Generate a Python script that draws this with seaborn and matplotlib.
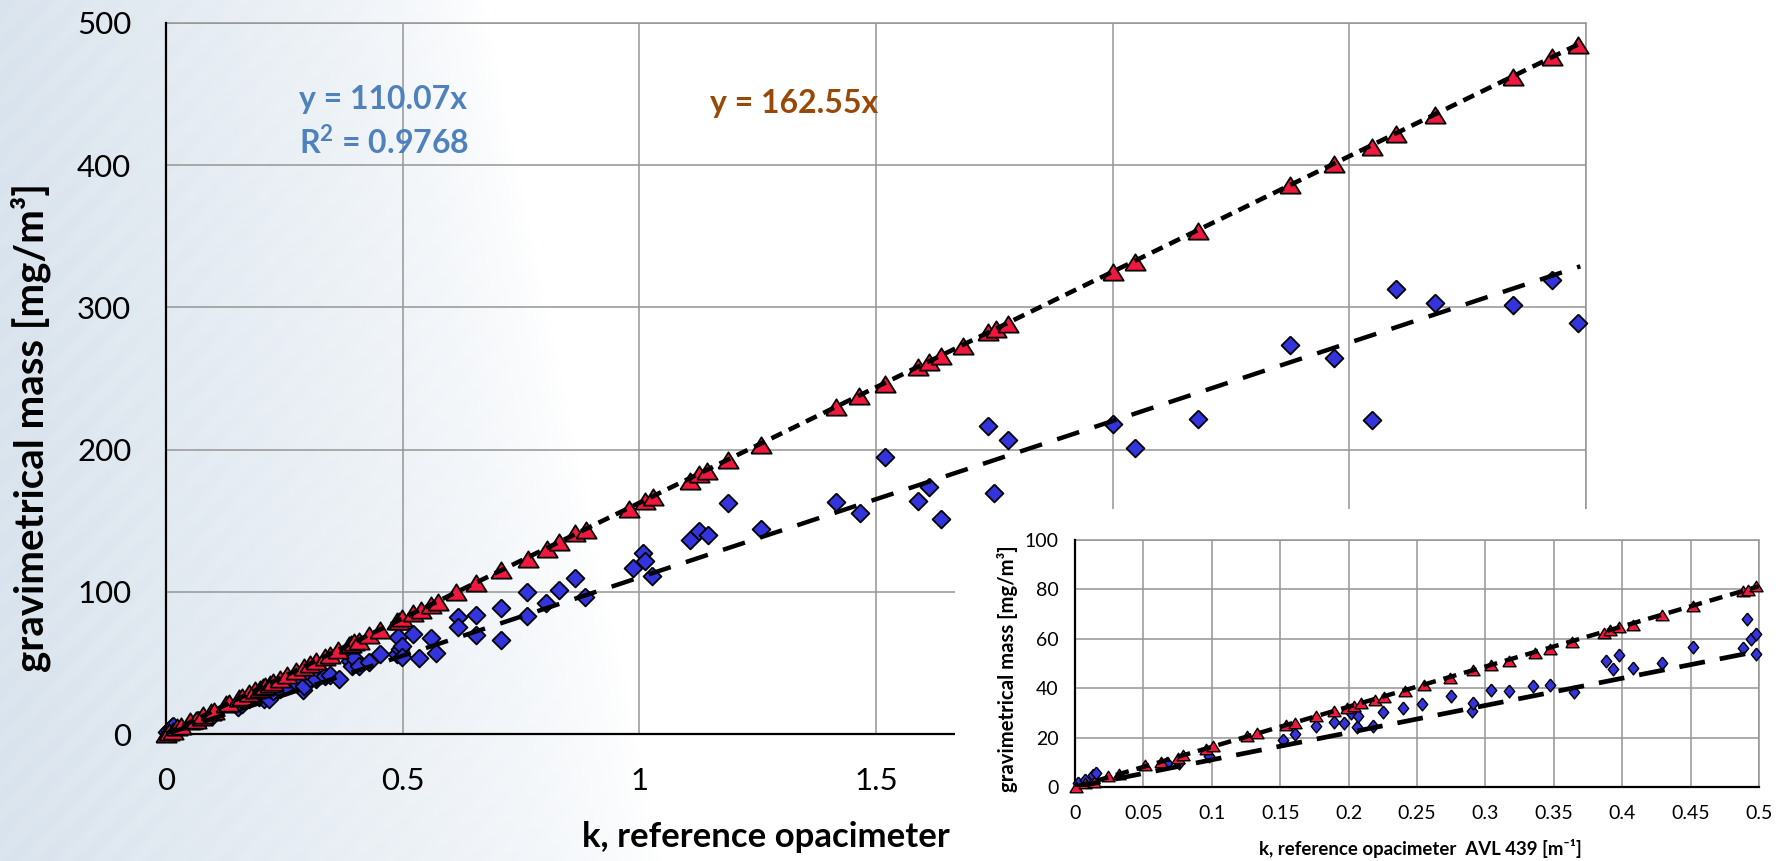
import numpy as np
import pandas as pd
import matplotlib
matplotlib.use("Agg")
import matplotlib.pyplot as plt
import seaborn as sns

# ---------------- data ----------------
red_x = [0.001, 0.007, 0.014, 0.024, 0.032, 0.051, 0.063, 0.075, 0.079, 0.096,
         0.101, 0.126, 0.133, 0.154, 0.161, 0.176, 0.189, 0.199, 0.204, 0.209,
         0.219, 0.226, 0.241, 0.255, 0.274, 0.291, 0.304, 0.317, 0.336, 0.347,
         0.363, 0.387, 0.391, 0.398, 0.408, 0.429, 0.452, 0.488, 0.492, 0.498,
         0.521, 0.539, 0.560, 0.574, 0.613, 0.655, 0.708, 0.764, 0.805, 0.831,
         0.865, 0.887, 0.979, 1.011, 1.028, 1.106, 1.127, 1.144, 1.187, 1.257,
         1.416, 1.465, 1.518, 1.588, 1.613, 1.637, 1.683, 1.736, 1.754, 1.778,
         2.000, 2.048, 2.181, 2.375, 2.468, 2.547, 2.599, 2.682, 2.846, 2.929,
         2.983]
red_y = [0.0, 1.6, 1.9, 4.6, 5.4, 9.0, 10.0, 11.7, 13.1, 15.4,
         16.4, 20.8, 21.8, 25.2, 26.1, 28.8, 30.6, 31.9, 32.9, 34.0,
         35.3, 36.4, 38.7, 41.4, 44.1, 47.4, 49.2, 51.1, 54.2, 55.9,
         58.9, 62.5, 63.6, 64.6, 65.6, 69.7, 73.3, 79.5, 79.8, 81.4,
         84.8, 87.2, 90.7, 92.5, 100.0, 106.3, 115.0, 123.4, 130.4, 135.0,
         141.0, 143.5, 158.5, 164.0, 166.7, 178.0, 183.0, 185.0, 192.4, 203.0,
         229.8, 238.0, 246.0, 257.9, 261.4, 266.0, 273.0, 282.5, 284.8, 288.3,
         325.0, 332.0, 354.0, 386.0, 401.0, 413.0, 422.0, 435.0, 462.0, 476.0,
         484.5]

blue_x = [0.002, 0.007, 0.013, 0.015, 0.067, 0.076, 0.098, 0.152, 0.161, 0.176,
          0.189, 0.197, 0.202, 0.206, 0.207, 0.218, 0.225, 0.240, 0.254, 0.275,
          0.290, 0.291, 0.304, 0.317, 0.335, 0.347, 0.365, 0.388, 0.393, 0.398,
          0.408, 0.429, 0.452, 0.488, 0.491, 0.494, 0.498, 0.498,
          0.521, 0.535, 0.560, 0.570, 0.616, 0.616, 0.655, 0.655, 0.708, 0.708,
          0.763, 0.763, 0.803, 0.831, 0.865, 0.886, 0.986, 1.007, 1.013, 1.027,
          1.107, 1.127, 1.146, 1.187, 1.257, 1.416, 1.467, 1.520, 1.588, 1.611,
          1.637, 1.736, 1.750, 1.778, 2.000, 2.048, 2.181, 2.375, 2.468, 2.547,
          2.599, 2.682, 2.846, 2.929, 2.983]
blue_y = [1.6, 3.0, 5.0, 5.8, 9.7, 9.9, 12.4, 19.1, 21.4, 24.8,
          26.5, 25.9, 29.9, 24.3, 28.8, 24.5, 30.2, 31.9, 33.7, 36.7,
          30.6, 34.0, 39.1, 38.7, 41.0, 41.4, 38.4, 51.2, 47.7, 53.5,
          48.1, 50.4, 56.5, 56.2, 67.9, 59.8, 62.0, 53.9,
          70.1, 53.3, 67.3, 56.8, 82.5, 75.0, 83.6, 69.6, 88.3, 66.0,
          100.0, 83.0, 92.3, 101.0, 110.0, 96.5, 116.4, 127.0, 122.0, 111.0,
          136.3, 143.0, 139.8, 162.5, 144.5, 163.0, 155.5, 194.7, 163.6, 173.7,
          151.5, 216.3, 169.7, 206.5, 218.0, 201.4, 221.8, 273.7, 264.3, 221.0,
          313.0, 303.0, 301.6, 319.0, 288.7]

slope_red = 162.55
slope_blue = 110.07
r2_blue = 0.9768

main_xticks = [0, 0.5, 1, 1.5, 2, 2.5, 3]
main_yticks = [0, 100, 200, 300, 400, 500]
inset_xticks = [0, 0.05, 0.1, 0.15, 0.2, 0.25, 0.3, 0.35, 0.4, 0.45, 0.5]
inset_yticks = [0, 20, 40, 60, 80, 100]

# ---------------- styling ----------------
sns.set_theme(style="white")
plt.rcParams['font.family'] = ['Lato', 'DejaVu Sans']
plt.rcParams['mathtext.fontset'] = 'custom'
plt.rcParams['mathtext.rm'] = 'Lato'
plt.rcParams['mathtext.bf'] = 'Lato:bold'

W, H = 1784, 861
fig = plt.figure(figsize=(W / 100, H / 100), dpi=100)
fig.patch.set_facecolor("white")

RED = "#F0183C"
BLUE = "#3434DC"
GRID = "#959595"
EQ_BLUE = "#4F81BD"
EQ_BROWN = "#984807"

tri = [(-1.0, -0.8), (1.0, -0.8), (0.0, 0.8), (-1.0, -0.8)]
dia = [(0.0, 1.0), (1.0, 0.0), (0.0, -1.0), (-1.0, 0.0), (0.0, 1.0)]
dia_tall = [(0.0, 1.0), (0.82, 0.0), (0.0, -1.0), (-0.82, 0.0), (0.0, 1.0)]


def fx(px):
    return px / W


def fy(py):
    return 1 - py / H


# background: faint bluish wash on the left, fading to white
bg = fig.add_axes([0, 0, 1, 1], zorder=-10)
xs = np.linspace(0, 1, 900)
ys = np.linspace(0, 1, 430)
XX, YY = np.meshgrid(xs, ys)
reach = 0.27 + 0.10 * YY          # YY = 0 top, 1 bottom
t = np.clip(1 - XX / reach, 0, 1) ** 0.7
stripes = 0.5 + 0.5 * np.sin((XX * 1784 * 0.7 + YY * 861 * 0.7) / 4.0)
t = t * (0.92 + 0.08 * stripes)
base = np.array([0.85, 0.89, 0.93])
img = 1 - t[..., None] * (1 - base)[None, None, :]
bg.imshow(img, aspect="auto", extent=[0, 1, 0, 1], origin="upper")
bg.axis("off")

df_red = pd.DataFrame({"x": red_x, "y": red_y})
df_blue = pd.DataFrame({"x": blue_x, "y": blue_y})


def style_axes(ax, xlim, ylim, xticks, yticks, tick_fs, pad_x, pad_y, spine_lw, grid_lw):
    ax.set_facecolor("none")
    ax.set_xlim(*xlim)
    ax.set_ylim(*ylim)
    ax.set_xticks(xticks)
    ax.set_yticks(yticks)
    ax.set_xticklabels(["%g" % v for v in xticks])
    ax.set_yticklabels(["%g" % v for v in yticks])
    ax.grid(True, color=GRID, lw=grid_lw, zorder=0)
    ax.set_axisbelow(True)
    for s in ["top", "right"]:
        ax.spines[s].set_visible(False)
    for s in ["left", "bottom"]:
        ax.spines[s].set_color("black")
        ax.spines[s].set_linewidth(spine_lw)
        ax.spines[s].set_zorder(2)
    ax.tick_params(axis="x", length=0, pad=pad_x, labelsize=tick_fs, colors="black")
    ax.tick_params(axis="y", length=0, pad=pad_y, labelsize=tick_fs, colors="black")
    ax.axhline(ylim[1], color=GRID, lw=grid_lw, zorder=1, clip_on=False)
    ax.axvline(xlim[1], color=GRID, lw=grid_lw, zorder=1, clip_on=False)
    ax.set_xlabel("")
    ax.set_ylabel("")


def draw_data(ax, dfb, dfr, xmax, s_tri, s_dia, dia_marker, mlw, lw_r, lw_b, red_dash, blue_dash):
    sns.scatterplot(data=dfb, x="x", y="y", ax=ax, marker=dia_marker, s=s_dia,
                    color=BLUE, edgecolor="black", linewidth=mlw, zorder=3,
                    legend=False, clip_on=False)
    sns.scatterplot(data=dfr, x="x", y="y", ax=ax, marker=tri, s=s_tri,
                    color=RED, edgecolor="black", linewidth=mlw, zorder=4,
                    legend=False, clip_on=False)
    lx = np.array([0.0, xmax])
    ax.plot(lx, slope_red * lx, color="black", lw=lw_r, dashes=red_dash, zorder=5)
    ax.plot(lx, slope_blue * lx, color="black", lw=lw_b, dashes=blue_dash, zorder=5)
    ax.set_xlabel("")
    ax.set_ylabel("")


# ---------------- main axes ----------------
L, R, T, B = 166, 1586, 23, 734
ax = fig.add_axes([fx(L), fy(B), fx(R) - fx(L), fy(T) - fy(B)])
style_axes(ax, (0, 3), (0, 500), main_xticks, main_yticks,
           tick_fs=22.5, pad_x=24, pad_y=25, spine_lw=1.6, grid_lw=1.1)
draw_data(ax, df_blue, df_red, max(red_x) + 0.005, s_tri=215, s_dia=165, dia_marker=dia,
          mlw=1.3, lw_r=3.3, lw_b=3.2, red_dash=(2.6, 1.6), blue_dash=(5.2, 3.6))

fig.text(fx(766), fy(847), "k, reference opacimeter", ha="center", va="baseline",
         fontsize=25, fontweight="bold", color="black")
fig.text(fx(31), fy(427), "gravimetrical mass [mg/m³]", ha="center", va="center",
         rotation=90, fontsize=29, fontweight="bold", color="black")

fig.text(fx(299), fy(109), f"y = {slope_blue:.2f}x", ha="left", va="baseline",
         fontsize=23, fontweight="bold", color=EQ_BLUE)
fig.text(fx(299), fy(154), "R$^{\\mathbf{2}}$" + f" = {r2_blue:.4f}", ha="left",
         va="baseline", fontsize=23, fontweight="bold", color=EQ_BLUE)
fig.text(fx(710), fy(113), f"y = {slope_red:.2f}x", ha="left", va="baseline",
         fontsize=23, fontweight="bold", color=EQ_BROWN)

# ---------------- white box behind inset ----------------
wb = fig.add_axes([fx(955), 0, 1 - fx(955), fy(509)], zorder=5)
wb.set_facecolor("white")
wb.set_xticks([])
wb.set_yticks([])
for s in wb.spines.values():
    s.set_visible(False)

# ---------------- inset axes ----------------
iL, iR, iT, iB = 1075, 1759, 540, 787
ia = fig.add_axes([fx(iL), fy(iB), fx(iR) - fx(iL), fy(iT) - fy(iB)], zorder=6)
style_axes(ia, (0, 0.5), (0, 100), inset_xticks, inset_yticks,
           tick_fs=14, pad_x=13, pad_y=12, spine_lw=1.6, grid_lw=1.1)
df_red_in = df_red[df_red["x"] <= 0.5]
df_blue_in = df_blue[df_blue["x"] <= 0.5]
draw_data(ia, df_blue_in, df_red_in, 0.5, s_tri=90, s_dia=85, dia_marker=dia_tall,
          mlw=1.0, lw_r=3.2, lw_b=3.4, red_dash=(3.0, 1.8), blue_dash=(5.5, 3.2))

fig.text(fx(1420), fy(855), "k, reference opacimeter  AVL 439 [m⁻¹]", ha="center",
         va="baseline", fontsize=13.4, fontweight="bold", color="black", zorder=7)
fig.text(fx(1008), fy(669), "gravimetrical mass [mg/m³]", ha="center", va="center",
         rotation=90, fontsize=14.6, fontweight="bold", color="black", zorder=7)

fig.savefig("out.png", dpi=100, facecolor="white")
